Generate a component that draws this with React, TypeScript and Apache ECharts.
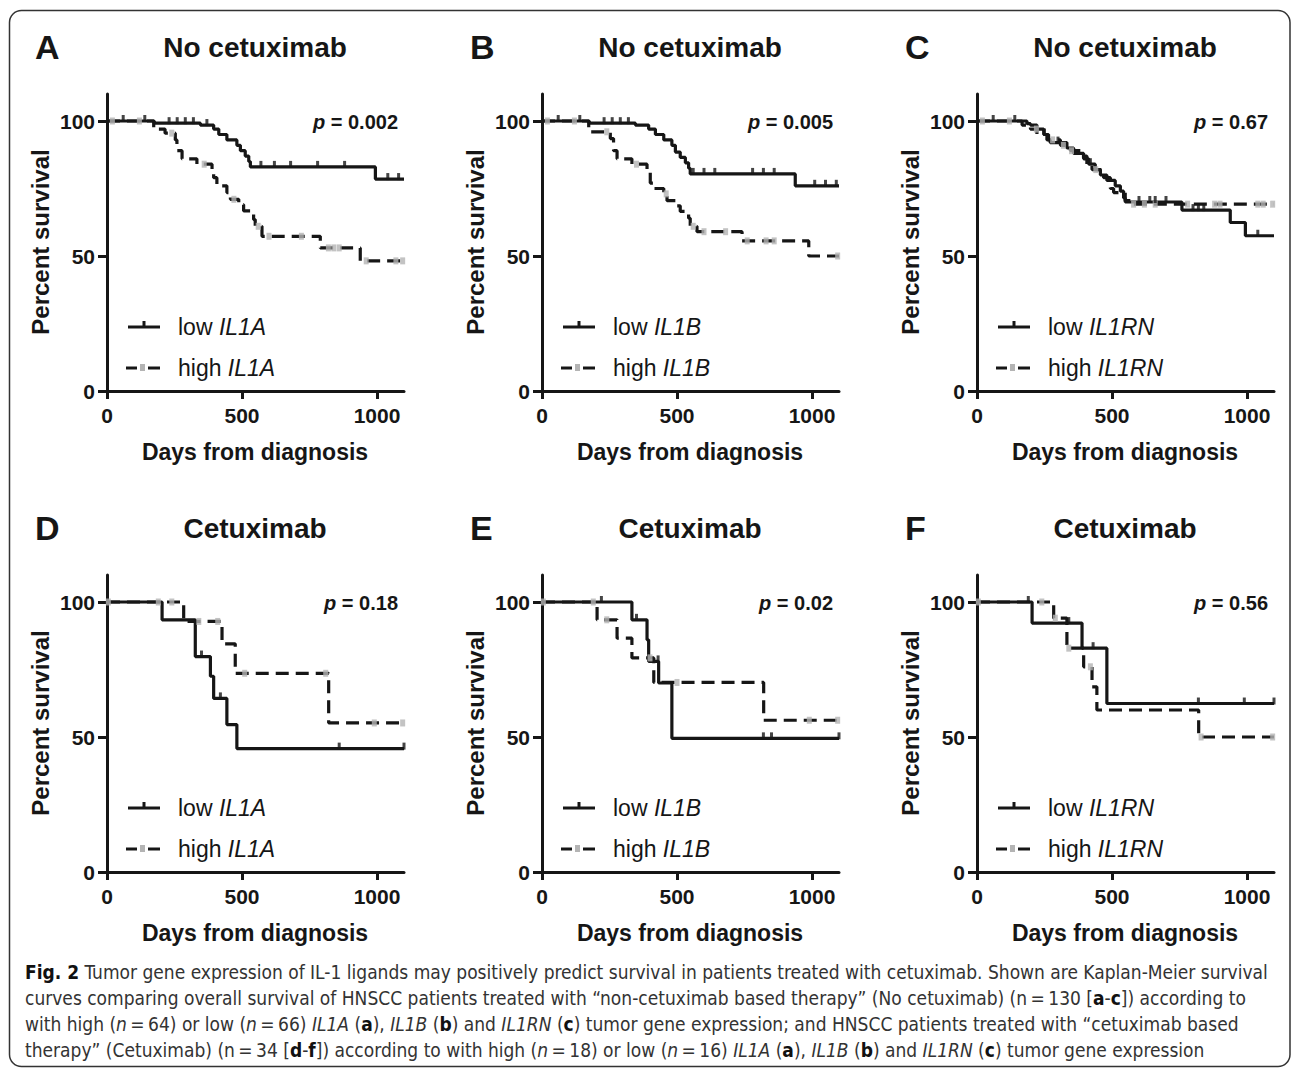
import React, { useEffect, useRef } from "react";
import * as echarts from "echarts";

// ---------- data ----------
const panelLetters = ["A", "B", "C", "D", "E", "F"];
const panelTitles = ["No cetuximab", "No cetuximab", "No cetuximab", "Cetuximab", "Cetuximab", "Cetuximab"];
const genes = ["IL1A", "IL1B", "IL1RN", "IL1A", "IL1B", "IL1RN"];
const pValues = ["0.002", "0.005", "0.67", "0.18", "0.02", "0.56"];
const xTicks = [0, 500, 1000];
const yTicks = [0, 50, 100];

const lowA = [[0,100],[175,99.2],[346,98.5],[395,97],[414,95],[444,93],[481,91],[494,89],[512,87],[525,85],[531,83],[994,78.5],[1100,78.5]];
const highA = [[0,100],[173,97],[215,95.5],[253,93],[259,89],[278,86],[333,84],[389,81.5],[395,79],[407,76],[444,73.5],[457,71],[488,69],[506,66.7],[543,63.5],[549,61],[574,57.3],[790,53],[938,48.2],[1100,48.2]];
const lowB = [[0,100],[175,99.2],[346,98.5],[395,97],[420,95],[451,93],[481,91],[494,88.5],[512,86.5],[531,84.5],[543,82.5],[549,80.4],[938,76],[1100,76]];
const highB = [[0,100],[173,96],[253,93.5],[265,89],[278,86],[333,84],[389,81.5],[401,77],[413,75],[451,73],[463,70.5],[494,68.6],[512,66.5],[543,64],[549,61],[574,59],[741,55.6],[988,50],[1100,50]];
const lowC = [[0,100],[185,99],[198,98.5],[222,97],[247,95],[265,93],[271,92],[333,90],[358,88],[395,86],[414,84],[438,82],[457,80],[481,78],[512,76],[531,74],[543,71.5],[549,70],[759,67],[938,62.4],[994,57.5],[1100,57.5]];
const highC = [[0,100],[167,98.5],[198,97],[222,95],[259,93],[309,91],[346,89],[383,87],[407,84],[426,82],[469,79],[494,75],[506,73.5],[549,70.5],[580,69.2],[1100,69.2]];
const lowD = [[0,100],[204,93.4],[327,79.8],[383,72.5],[395,64.3],[444,54.6],[481,45.7],[1100,45.7]];
const highD = [[0,100],[284,92.8],[426,84.5],[475,73.6],[821,55.2],[1100,55.2]];
const lowE = [[0,100],[333,93.4],[389,86],[395,78],[432,70],[481,49.5],[1100,49.5]];
const highE = [[0,100],[204,93.4],[278,86.6],[333,79.3],[414,70.2],[821,56.2],[1100,56.2]];
const lowF = [[0,100],[204,92.2],[389,82.9],[481,62.4],[1100,62.4]];
const highF = [[0,100],[284,94],[333,82.9],[395,76],[426,68.6],[444,60],[821,50],[1100,50]];

const lowCensorA = [60, 140, 230, 260, 290, 320, 370, 570, 620, 680, 780, 880, 1040, 1080];
const highCensorA = [20, 120, 240, 360, 470, 560, 600, 720, 820, 840, 860, 960, 1070, 1095];
const lowCensorB = [60, 140, 230, 260, 290, 320, 560, 600, 640, 780, 820, 860, 1010, 1050, 1090];
const highCensorB = [20, 120, 240, 350, 460, 560, 600, 680, 760, 830, 860, 1095];
const lowCensorC = [60, 140, 250, 300, 420, 600, 640, 660, 700, 800, 820, 840, 1040];
const highCensorC = [20, 120, 220, 280, 320, 350, 440, 580, 620, 660, 780, 880, 900, 1040, 1060, 1095];
const lowCensorD = [350, 420, 860, 1100];
const highCensorD = [5, 190, 240, 340, 410, 510, 810, 990, 1095];
const lowCensorE = [220, 350, 430, 820, 850, 1100];
const highCensorE = [5, 190, 240, 400, 500, 990, 1095];
const lowCensorF = [190, 340, 430, 820, 990, 1100];
const highCensorF = [5, 240, 290, 340, 420, 830, 1095];

const lowCurves = [lowA, lowB, lowC, lowD, lowE, lowF];
const highCurves = [highA, highB, highC, highD, highE, highF];
const lowCensors = [lowCensorA, lowCensorB, lowCensorC, lowCensorD, lowCensorE, lowCensorF];
const highCensors = [highCensorA, highCensorB, highCensorC, highCensorD, highCensorE, highCensorF];

const captionLines = [
  "{b|Fig. 2} Tumor gene expression of IL-1 ligands may positively predict survival in patients treated with cetuximab. Shown are Kaplan-Meier survival",
  "curves comparing overall survival of HNSCC patients treated with \u201cnon-cetuximab based therapy\u201d (No cetuximab) (n\u2009=\u2009130 [{b|a}-{b|c}]) according to",
  "with high ({i|n}\u2009=\u200964) or low ({i|n}\u2009=\u200966) {i|IL1A} ({b|a}), {i|IL1B} ({b|b}) and {i|IL1RN} ({b|c}) tumor gene expression; and HNSCC patients treated with \u201ccetuximab based",
  "therapy\u201d (Cetuximab) (n\u2009=\u200934 [{b|d}-{b|f}]) according to with high ({i|n}\u2009=\u200918) or low ({i|n}\u2009=\u200916) {i|IL1A} ({b|a}), {i|IL1B} ({b|b}) and {i|IL1RN} ({b|c}) tumor gene expression",
];

// ---------- layout ----------
const W = 1293;
const H = 1069;
const plotLefts = [107, 542, 977];
const plotTops = [94, 575];
const PW = 297;
const PH = 297;
const FONT = "'Liberation Sans', Arial, Helvetica, sans-serif";
const CAPFONT = "'Liberation Sans Narrow', 'Arial Narrow', 'DejaVu Sans Condensed', sans-serif";
const INK = "#161616";

function stepValueAt(curve: number[][], t: number) {
  let v = curve[0][1];
  for (const p of curve) {
    if (p[0] <= t) v = p[1];
  }
  return v;
}

function txt(x: number, y: number, text: string, opts: any = {}, rich?: any, rotation = 0) {
  const align = opts.align || "left";
  const valign = opts.valign || "middle";
  return {
    type: "text",
    x,
    y,
    rotation,
    z: 10,
    style: {
      text,
      fill: opts.fill || INK,
      fontSize: opts.fontSize || 18,
      fontWeight: opts.fontWeight || "normal",
      fontStyle: opts.fontStyle || "normal",
      fontFamily: opts.fontFamily || FONT,
      align,
      verticalAlign: valign,
      textAlign: align,
      textVerticalAlign: valign,
      rich,
    },
  };
}

function buildOption() {
  const grid: any[] = [];
  const xAxis: any[] = [];
  const yAxis: any[] = [];
  const series: any[] = [];
  const graphic: any[] = [];

  for (let i = 0; i < 6; i++) {
    const col = i % 3;
    const row = Math.floor(i / 3);
    const left = plotLefts[col];
    const top = plotTops[row];
    const dy = row * 481;
    grid.push({ left, top, width: PW, height: PH, outerBoundsMode: "none", containLabel: false });
    xAxis.push({
      gridIndex: i,
      type: "value",
      min: 0,
      max: 1100,
      interval: 500,
      splitLine: { show: false },
      axisLine: { show: true, onZero: false, lineStyle: { color: INK, width: 3 } },
      axisTick: { show: true, length: 8, customValues: xTicks, lineStyle: { color: INK, width: 3 } },
      axisLabel: {
        customValues: xTicks,
        formatter: (v: number) => String(v),
        fontFamily: FONT,
        fontWeight: "bold",
        fontSize: 21,
        color: INK,
        margin: 14,
      },
    });
    yAxis.push({
      gridIndex: i,
      type: "value",
      min: 0,
      max: 110,
      interval: 50,
      splitLine: { show: false },
      axisLine: { show: true, onZero: false, lineStyle: { color: INK, width: 3 } },
      axisTick: { show: true, length: 9, customValues: yTicks, lineStyle: { color: INK, width: 3 } },
      axisLabel: {
        customValues: yTicks,
        formatter: (v: number) => String(v),
        fontFamily: FONT,
        fontWeight: "bold",
        fontSize: 21,
        color: INK,
        margin: 12,
      },
    });

    series.push({
      type: "line",
      xAxisIndex: i,
      yAxisIndex: i,
      step: "end",
      data: highCurves[i],
      showSymbol: false,
      symbol: "none",
      lineStyle: { color: INK, width: 3.2, type: [13, 7] },
      z: 2,
    });
    series.push({
      type: "line",
      xAxisIndex: i,
      yAxisIndex: i,
      step: "end",
      data: lowCurves[i],
      showSymbol: false,
      symbol: "none",
      lineStyle: { color: INK, width: 3.2 },
      z: 3,
    });
    series.push({
      type: "scatter",
      xAxisIndex: i,
      yAxisIndex: i,
      data: highCensors[i].map((t) => [t, stepValueAt(highCurves[i], t)]),
      symbol: "rect",
      symbolSize: [5, 7],
      itemStyle: { color: "#b4b4b4" },
      z: 4,
    });
    series.push({
      type: "scatter",
      xAxisIndex: i,
      yAxisIndex: i,
      data: lowCensors[i].map((t) => [t, stepValueAt(lowCurves[i], t)]),
      symbol: "rect",
      symbolSize: [3, 7],
      symbolOffset: [0, -2.5],
      itemStyle: { color: INK },
      z: 5,
    });

    // panel texts
    graphic.push(txt(left - 72, 47 + dy, panelLetters[i], { fontSize: 34, fontWeight: "bold", valign: "middle" }));
    graphic.push(txt(left + 148, 47 + dy, panelTitles[i], { fontSize: 28, fontWeight: "bold", align: "center" }));
    graphic.push(txt(left + 148, 452 + dy, "Days from diagnosis", { fontSize: 23, fontWeight: "bold", align: "center" }));
    graphic.push(
      txt(left - 67, 242 + dy, "Percent survival", { fontSize: 24, fontWeight: "bold", align: "center" }, undefined, Math.PI / 2)
    );
    graphic.push(
      txt(left + 291, 122 + dy, "{pi|p} = " + pValues[i], { fontSize: 20, fontWeight: "bold", align: "right" }, {
        pi: { fontStyle: "italic", fontWeight: "bold", fontSize: 20, fontFamily: FONT, fill: INK },
      })
    );

    // legend
    const ly1 = 327 + dy;
    const ly2 = 368 + dy;
    graphic.push({ type: "line", z: 10, shape: { x1: left + 21, y1: ly1, x2: left + 53, y2: ly1 }, style: { stroke: INK, lineWidth: 3 } });
    graphic.push({ type: "rect", z: 11, shape: { x: left + 35.5, y: ly1 - 6, width: 3, height: 6 }, style: { fill: INK } });
    graphic.push({ type: "line", z: 10, shape: { x1: left + 19, y1: ly2, x2: left + 30, y2: ly2 }, style: { stroke: INK, lineWidth: 3 } });
    graphic.push({ type: "line", z: 10, shape: { x1: left + 41, y1: ly2, x2: left + 53, y2: ly2 }, style: { stroke: INK, lineWidth: 3 } });
    graphic.push({ type: "rect", z: 11, shape: { x: left + 33, y: ly2 - 4, width: 5, height: 7 }, style: { fill: "#b4b4b4" } });
    const legRich = { g: { fontStyle: "italic", fontSize: 23, fontFamily: FONT, fill: INK } };
    graphic.push(txt(left + 71, ly1, "low {g|" + genes[i] + "}", { fontSize: 23 }, legRich));
    graphic.push(txt(left + 71, ly2, "high {g|" + genes[i] + "}", { fontSize: 23 }, legRich));
  }

  // caption
  const capRich = {
    b: { fontWeight: "bold", fontSize: 19, fontFamily: CAPFONT, fill: "#111" },
    i: { fontStyle: "italic", fontSize: 19, fontFamily: CAPFONT, fill: "#333" },
  };
  const capY = [972, 998, 1024, 1050];
  captionLines.forEach((line, k) => {
    graphic.push(txt(25, capY[k], line, { fontSize: 19, fontFamily: CAPFONT, fill: "#333" }, capRich));
  });

  // frame
  graphic.push({
    type: "rect",
    z: 1,
    shape: { x: 9.5, y: 10.5, width: 1280.5, height: 1056, r: 12 },
    style: { fill: "none", stroke: "#333", lineWidth: 1.5 },
  });

  return {
    animation: false,
    backgroundColor: "#ffffff",
    grid,
    xAxis,
    yAxis,
    series,
    graphic: { elements: graphic },
  };
}

export default function App() {
  const ref = useRef<HTMLDivElement>(null);
  useEffect(() => {
    document.body.style.margin = "0";
    if (!ref.current) return;
    const chart = echarts.init(ref.current, undefined, { renderer: "svg", width: W, height: H });
    chart.setOption(buildOption() as any);
    return () => chart.dispose();
  }, []);
  return <div ref={ref} style={{ width: W, height: H, position: "absolute", left: 0, top: 0 }} />;
}
